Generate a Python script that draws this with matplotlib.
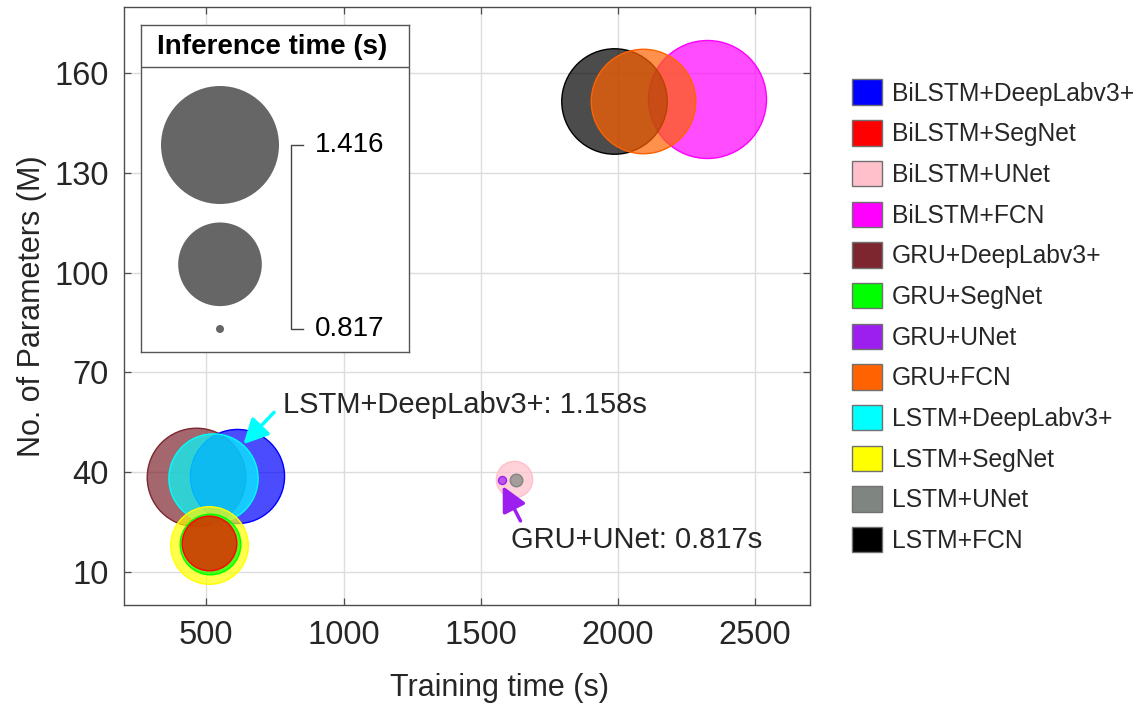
import numpy as np
import matplotlib
matplotlib.use("Agg")
import matplotlib.pyplot as plt
from matplotlib.patches import Patch
from matplotlib.colors import to_rgba

plt.rcParams["font.family"] = ["Liberation Sans", "DejaVu Sans"]

models = [
    "BiLSTM+DeepLabv3+", "BiLSTM+SegNet", "BiLSTM+UNet", "BiLSTM+FCN",
    "GRU+DeepLabv3+", "GRU+SegNet", "GRU+UNet", "GRU+FCN",
    "LSTM+DeepLabv3+", "LSTM+SegNet", "LSTM+UNet", "LSTM+FCN",
]
training_time = [611, 508, 1623, 2323, 461, 513, 1578, 2092, 524, 511, 1628, 1985]
params_m = [38.9, 18.8, 38.0, 152.4, 38.5, 18.3, 37.5, 151.7, 38.3, 18.2, 37.6, 151.7]
inference_time = [1.197, 0.943, 0.871, 1.416, 1.234, 0.973, 0.817, 1.286, 1.158, 1.074, 0.821, 1.295]
colors = ["#0000FF", "#FF0000", "#FFC0CB", "#FF00FF", "#7E2630", "#00FF00",
          "#9D1FF0", "#FF6200", "#00FFFF", "#FFFF00", "#7F8682", "#000000"]

size_legend = [1.416, 1.1165, 0.817]
size_labels = ["1.416", "0.817"]

# annotations: text, text position, arrow tail, arrow tip (data units)
notes = [
    ("LSTM+DeepLabv3+: 1.158s", (781, 57.7), (747, 58.0), (635, 48.4), "#00FFFF"),
    ("GRU+UNet: 0.817s", (1611, 17.1), (1645, 25.3), (1580, 35.8), "#9D1FF0"),
]

DPI = 100
TXT = "#262626"
t_min, t_max = min(inference_time), max(inference_time)
r_min, r_max = 4.0, 59.0  # bubble radius in pixels


def bubble_size(t):
    t = np.asarray(t, dtype=float)
    r = np.sqrt(r_min**2 + (t - t_min) / (t_max - t_min) * (r_max**2 - r_min**2))
    return (2 * r * 72 / DPI) ** 2


fig = plt.figure(figsize=(11.42, 7.09), dpi=DPI)
ax = fig.add_axes([124 / 1142, 1 - 605 / 709, 686 / 1142, 598 / 709])

# big bubbles first so small ones stay visible
order = np.argsort(inference_time)[::-1]
sizes = bubble_size(inference_time)
for k, i in enumerate(order):
    ax.scatter(training_time[i], params_m[i], s=sizes[i],
               facecolor=to_rgba(colors[i], 0.7), edgecolor=colors[i],
               linewidth=1, zorder=3 + k)

ax.set_xlim(200, 2700)
ax.set_ylim(0, 180)
ax.set_xticks([500, 1000, 1500, 2000, 2500])
ax.set_yticks([10, 40, 70, 100, 130, 160])
ax.grid(True, color="#dcdcdc", linewidth=1)
ax.set_axisbelow(True)
ax.tick_params(direction="in", length=5, width=0.9, top=True, right=True,
               labelsize=23.5, colors="#4d4d4d", labelcolor=TXT, pad=11)
for sp in ax.spines.values():
    sp.set_color("#4d4d4d")
    sp.set_linewidth(1)
ax.set_xlabel("Training time (s)", fontsize=22, color=TXT)
ax.set_ylabel("No. of Parameters (M)", fontsize=22, color=TXT)
ax.xaxis.set_label_coords((500 - 124) / 686, -(673 - 605) / 598)
ax.yaxis.set_label_coords(-(124 - 47) / 686, 0.5)

for text, pos, tail, tip, c in notes:
    ax.annotate("", xy=tip, xytext=tail, zorder=20,
                arrowprops=dict(arrowstyle="-|>,head_length=0.75,head_width=0.38",
                                color=c, lw=2.5, shrinkA=0, shrinkB=0,
                                mutation_scale=20))
    ax.text(pos[0], pos[1], text, fontsize=21, color=TXT, va="baseline",
            ha="left", zorder=20)

# inset size legend
ins = fig.add_axes([141.3 / 1142, 1 - 351.7 / 709, 268 / 1142, 326.7 / 709])
ins.set_xlim(0, 268)
ins.set_ylim(326.7, 0)
ins.set_xticks([])
ins.set_yticks([])
for sp in ins.spines.values():
    sp.set_color("#555555")
    sp.set_linewidth(1)
ins.axhline(41.7, color="#555555", linewidth=1)
ins.text(131, 22, "Inference time (s)", fontsize=20, fontweight="bold",
         ha="center", va="center", color="black")
leg_y = [120, 239.3, 304]
ins.scatter([78.7] * 3, leg_y, s=bubble_size(size_legend), color="#666666",
            edgecolor="none")
ins.plot([161.4, 149.7, 149.7, 161.4], [leg_y[0], leg_y[0], leg_y[2], leg_y[2]],
         color="#444444", linewidth=1)
ins.text(173.7, leg_y[0], size_labels[0], fontsize=20, va="center", color="black")
ins.text(173.7, leg_y[2], size_labels[1], fontsize=20, va="center", color="black")

handles = [Patch(facecolor=c, edgecolor="#707070", linewidth=1) for c in colors]
fig.legend(handles, models, loc="upper left",
           bbox_to_anchor=(852 / 1142, 1 - 79.5 / 709), frameon=False,
           borderpad=0, borderaxespad=0, fontsize=17.7, handlelength=1.22,
           handleheight=1.22, handletextpad=0.4, labelspacing=0.595,
           labelcolor=TXT)

fig.savefig("out.png", dpi=DPI)
